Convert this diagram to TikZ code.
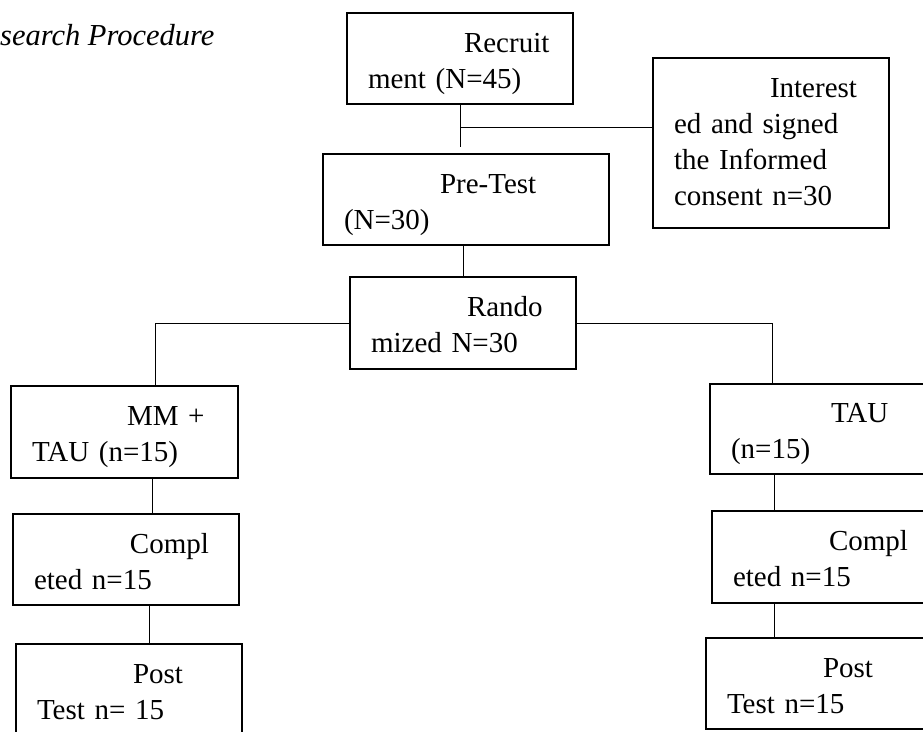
\documentclass[tikz,border=0pt]{standalone}
\usepackage{fontspec}
\setmainfont{Liberation Serif}
\usetikzlibrary{positioning}
\begin{document}
\begin{tikzpicture}
		[x=1pt,y=-1pt,
		box/.style={draw,line width=2pt,anchor=north west,inner xsep=21pt,inner ysep=0pt,
			align=left,text height=29pt,text depth=42pt,
			font=\fontsize{29pt}{36pt}\selectfont},
		link/.style={line width=1pt}]
		
		\useasboundingbox (0,0) rectangle (923,731);
		\clip (0,0) rectangle (923,731);
		
		\node[anchor=base west,inner sep=0pt,font=\fontsize{30.5pt}{36pt}\selectfont\itshape] (title) at (0,45) {search Procedure};
		
		\node[box,minimum width=226pt,minimum height=91pt,text width=184pt] (rec) at (346,12) {\hspace*{96pt}Recruit\\ment (N=45)};
		\node[box,minimum width=236pt,minimum height=170pt,text width=194pt,text depth=121pt] (inf) at (652,57) {\hspace*{96pt}Interest\\ed and signed\\the Informed\\consent n=30};
		\node[box,minimum width=286pt,minimum height=91pt,text width=244pt] (pre) at (322,153) {\hspace*{96pt}Pre-Test\\(N=30)};
		\node[box,minimum width=226pt,minimum height=92pt,text width=184pt] (rnd) at (349,276) {\hspace*{96pt}Rando\\mized N=30};
		
		\node[box,minimum width=227pt,minimum height=92pt,text width=185pt] (mm) at (10,385) {\hspace*{95pt}MM +\\TAU (n=15)};
		\node[box,minimum width=226pt,minimum height=91pt,text width=184pt] (cmpa) at (12,513) {\hspace*{96pt}Compl\\eted n=15};
		\node[box,minimum width=226pt,minimum height=91pt,text width=184pt] (posta) at (15,643) {\hspace*{96pt}Post\\Test n= 15};
		
		\node[box,minimum width=227pt,minimum height=90pt,text width=185pt] (tau) at (709,383) {\hspace*{100pt}TAU\\(n=15)};
		\node[box,minimum width=227pt,minimum height=92pt,text width=185pt] (cmpb) at (711,510) {\hspace*{96pt}Compl\\eted n=15};
		\node[box,minimum width=227pt,minimum height=91pt,text width=185pt] (postb) at (705,637) {\hspace*{96pt}Post\\Test n=15};
		
		\draw[link] (rec.south) -- ([yshift=6pt]rec.south |- pre.north);
		\draw[link] ([yshift=-22pt]rec.south) coordinate (join) -- (join -| inf.west);
		\draw[link] (rnd.north) -- (rnd.north |- pre.south);
		\draw[link] (rnd.west) -| ([xshift=30.5pt]mm.north);
		\draw[link] (rnd.east) -| ([xshift=-51.5pt]tau.north);
		
		\draw[link] ([xshift=27.5pt]mm.south) -- ([xshift=27.5pt]mm.south |- cmpa.north);
		\draw[link] ([xshift=23pt]cmpa.south) -- ([xshift=23pt]cmpa.south |- posta.north);
		\draw[link] ([xshift=-49.5pt]tau.south) -- ([xshift=-49.5pt]tau.south |- cmpb.north);
		\draw[link] ([xshift=-51.5pt]cmpb.south) -- ([xshift=-51.5pt]cmpb.south |- postb.north);
	
	\end{tikzpicture}
\end{document}
